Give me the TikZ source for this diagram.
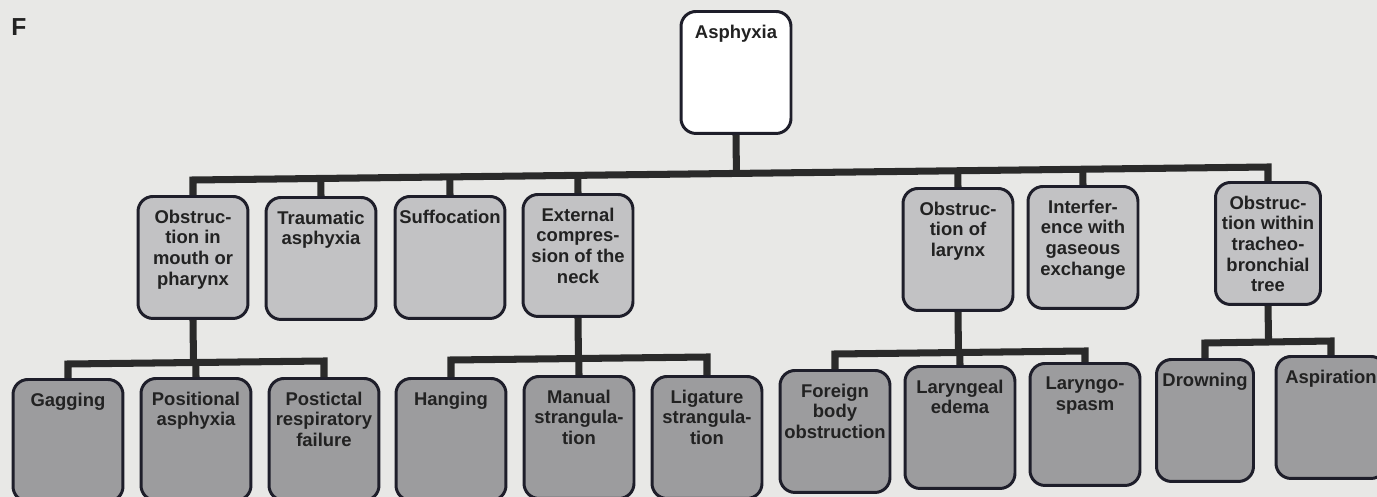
\documentclass[tikz,border=0pt]{standalone}
\usepackage{fontspec}
\setmainfont{Liberation Sans}
\usetikzlibrary{calc}
\definecolor{bg}{HTML}{E8E8E6}
\definecolor{l1fill}{HTML}{C2C2C4}
\definecolor{l2fill}{HTML}{9C9C9E}
\definecolor{bordercol}{HTML}{1E1E2A}
\definecolor{linecol}{HTML}{2A2A2A}
\definecolor{textcol}{HTML}{222222}
\newcommand\bt[2][2.2cm]{\parbox[c][2.44cm][t]{#1}{\centering\vspace*{7.5pt}#2\par}}
\tikzset{
  box/.style={draw=bordercol, line width=1.7pt, rounded corners=0.3cm, inner sep=0pt,
    anchor=north, font=\bfseries\fontsize{10.5}{11.8}\selectfont, text=textcol},
  lone/.style={box, fill=l1fill},
  ltwo/.style={box, fill=l2fill},
  root/.style={box, fill=white},
  conn/.style={draw=linecol, line width=4pt, line join=miter}
}
\begin{document}
\begin{tikzpicture}[x=0.02cm,y=-0.02cm]
\useasboundingbox (0,0) rectangle (1377,497);
\fill[bg] (0,0) rectangle (1377,497);
\clip (0,0) rectangle (1377,497);

\node[font=\bfseries\fontsize{14}{16}\selectfont, text=textcol, inner sep=0pt] (F) at (19,27) {F};

% root
\node[root] (asph) at (736,10) {\bt{Asphyxia}};

% level 1
\node[lone] (o1) at (193,195) {\bt{Obstruc-\\tion in\\mouth or\\pharynx}};
\node[lone] (o2) at (321,196) {\bt{Traumatic\\asphyxia}};
\node[lone] (o3) at (450,195) {\bt{Suffocation}};
\node[lone] (o4) at (578,193) {\bt{External\\compres-\\sion of the\\neck}};
\node[lone] (o5) at (958,187) {\bt{Obstruc-\\tion of\\larynx}};
\node[lone] (o6) at (1083,185) {\bt{Interfer-\\ence with\\gaseous\\exchange}};
\node[lone] (o7) at (1268,181) {\bt[2.1cm]{Obstruc-\\tion within\\tracheo-\\bronchial\\tree}};

% level 2
\node[ltwo] (gag) at (68,378) {\bt{Gagging}};
\node[ltwo] (pos) at (196,377) {\bt{Positional\\asphyxia}};
\node[ltwo] (post) at (324,377) {\bt{Postictal\\respiratory\\failure}};
\node[ltwo] (hang) at (451,377) {\bt{Hanging}};
\node[ltwo] (man) at (579,375) {\bt{Manual\\strangula-\\tion}};
\node[ltwo] (lig) at (707,375) {\bt{Ligature\\strangula-\\tion}};
\node[ltwo] (fb) at (835,369) {\bt{Foreign\\body\\obstruction}};
\node[ltwo] (led) at (960,365) {\bt{Laryngeal\\edema}};
\node[ltwo] (lsp) at (1085,362) {\bt{Laryngo-\\spasm}};
\node[ltwo] (drw) at (1205,358) {\bt[1.94cm]{Drowning}};
\node[ltwo] (asp) at (1331,355) {\bt{Aspiration}};

% main bus
\coordinate (bL) at (193,180);
\coordinate (bR) at (1268,167);
\draw[conn] (o1.north) -- (bL) -- (bR) -- (o7.north);
\foreach \n in {o2,o3,o4,o5,o6}
  \draw[conn] (\n.north) -- ($(bL)!(\n.north)!(bR)$);
\draw[conn] (asph.south) -- ($(bL)!(asph.south)!(bR)$);

% group 1
\coordinate (g1L) at (68,364);
\coordinate (g1R) at (324,361);
\draw[conn] (gag.north) -- (g1L) -- (g1R) -- (post.north);
\draw[conn] (pos.north) -- ($(g1L)!(pos.north)!(g1R)$);
\draw[conn] (o1.south) -- ($(g1L)!(o1.south)!(g1R)$);

% group 2
\coordinate (g2L) at (451,360);
\coordinate (g2R) at (707,357);
\draw[conn] (hang.north) -- (g2L) -- (g2R) -- (lig.north);
\draw[conn] (man.north) -- ($(g2L)!(man.north)!(g2R)$);
\draw[conn] (o4.south) -- ($(g2L)!(o4.south)!(g2R)$);

% group 3
\coordinate (g3L) at (835,354);
\coordinate (g3R) at (1085,351);
\draw[conn] (fb.north) -- (g3L) -- (g3R) -- (lsp.north);
\draw[conn] (led.north) -- ($(g3L)!(led.north)!(g3R)$);
\draw[conn] (o5.south) -- ($(g3L)!(o5.south)!(g3R)$);

% group 4
\coordinate (g4L) at (1205,343);
\coordinate (g4R) at (1331,341);
\draw[conn] (drw.north) -- (g4L) -- (g4R) -- (asp.north);
\draw[conn] (o7.south) -- ($(g4L)!(o7.south)!(g4R)$);
\end{tikzpicture}
\end{document}
